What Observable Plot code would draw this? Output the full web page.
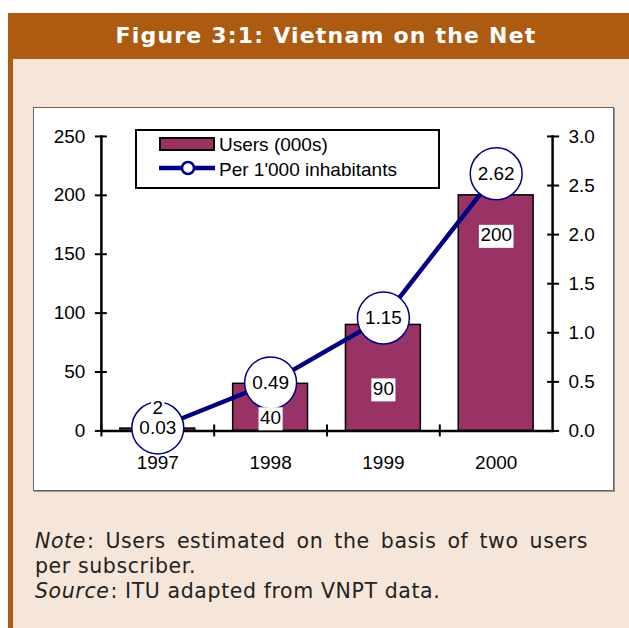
<!DOCTYPE html>
<html>
<head>
<meta charset="utf-8">
<script src="https://cdn.jsdelivr.net/npm/d3@7"></script>
<script src="https://cdn.jsdelivr.net/npm/@observablehq/plot@0.6"></script>
<style>
  html, body { margin: 0; padding: 0; background: white; width: 629px; height: 628px; overflow: hidden; }
  #panel { position: absolute; left: 8px; top: 13px; width: 640px; height: 640px; background: #F5E6D9; }
  #title { position: absolute; left: 0; top: 0; width: 636px; height: 46px; background: #AC5B10; color: white;
           font: bold 22px "DejaVu Sans", sans-serif; letter-spacing: 1.2px; text-align: center; line-height: 46px; }
  #lborder { position: absolute; left: 0; top: 46px; width: 5px; height: 600px; background: #AC5B10; }
  #chart { position: absolute; left: 33px; top: 107px; width: 579px; height: 382px; background: white;
           border: 1px solid #666; box-shadow: 1px 1px 0 #999; }
  #chart svg { position: absolute; left: -1px; top: -1px; }
  #legend { position: absolute; left: 101px; top: 21px; width: 301px; height: 56px; border: 2px solid black; background: white;
            font: 19px "Liberation Sans", Arial, sans-serif; }
  #legend svg { left: 0; top: 0; }
  #note { position: absolute; left: 35px; top: 529px; width: 553px; font: 20.5px "DejaVu Sans", sans-serif; letter-spacing: 0.6px;
          line-height: 25px; text-align: justify; color: #222; }
  #note i { padding-right: 1px; }
</style>
</head>
<body>
<div id="panel"><div id="title">Figure 3:1: Vietnam on the Net</div><div id="lborder"></div></div>
<div id="chart"></div>
<div id="note"><i>Note</i>: Users estimated on the basis of two users per subscriber.<br><i>Source</i>: ITU adapted from VNPT data.</div>
<script>
// ---- data ----
const years = ["1997", "1998", "1999", "2000"];
const users = [2, 40, 90, 200];                 // Users (000s), left axis
const per1000 = [0.03, 0.49, 1.15, 2.62];       // Per 1'000 inhabitants, right axis
const leftTicks = [0, 50, 100, 150, 200, 250];
const rightTicks = [0, 0.5, 1.0, 1.5, 2.0, 2.5, 3.0];
const seriesNames = ["Users (000s)", "Per 1'000 inhabitants"];

// ---- styles ----
const barColor = "#993366";
const lineColor = "#000080";
const barLabelDy = [-21, 34, 64, 40];

const rows = years.map((year, i) => ({year, users: users[i], per: per1000[i]}));
const k = 250 / 3; // right axis (0–3) mapped onto left axis (0–250)
const W = 580, H = 383, mL = 68, mR = 60;
const band = (W - mL - mR) / years.length;

const plot = Plot.plot({
  width: W, height: H,
  marginLeft: mL, marginRight: mR, marginTop: 29, marginBottom: 59,
  style: {fontFamily: "'Liberation Sans', Arial, sans-serif", fontSize: "19px", color: "black", background: "transparent", overflow: "visible"},
  x: {domain: years, padding: 0, axis: null},
  y: {domain: [0, 250], axis: null},
  marks: [
    Plot.barY(rows, {x: "year", y: "users", fill: barColor, stroke: "black", strokeWidth: 1.5, insetLeft: 19, insetRight: 19}),
    Plot.ruleY([0], {stroke: "black", strokeWidth: 2.5}),
    Plot.frame({anchor: "left", stroke: "black", strokeWidth: 2.5}),
    Plot.frame({anchor: "right", stroke: "black", strokeWidth: 2.5}),
    Plot.axisY(leftTicks, {anchor: "left", label: null, tickSize: 12, dx: 6, tickPadding: 10, strokeWidth: 2, fontSize: 19, fill: "black"}),
    Plot.axisY(rightTicks.map(v => v * k), {anchor: "right", label: null, tickSize: 12, dx: -6, tickPadding: 10, strokeWidth: 2,
      fontSize: 19, fill: "black", tickFormat: v => (v / k).toFixed(1)}),
    Plot.axisX(years, {anchor: "bottom", label: null, tickSize: 12, dy: -6, dx: -band / 2, strokeWidth: 2, tickFormat: () => ""}),
    Plot.axisX(years, {anchor: "bottom", label: null, tickSize: 0, tickPadding: 25, fontSize: 19, fill: "black"}),
    Plot.line(rows, {x: "year", y: d => d.per * k, stroke: lineColor, strokeWidth: 4.5}),
    Plot.dot(rows, {x: "year", y: d => d.per * k, r: 26, fill: "white", stroke: lineColor, strokeWidth: 1.5}),
    Plot.text(rows, {x: "year", y: d => d.per * k, text: d => d.per.toFixed(2), fontSize: 19, fill: "black"}),
    ...rows.map((r, i) => Plot.text([r], {x: "year", y: "users", text: d => String(d.users), dy: barLabelDy[i],
      fontSize: 19, fill: "black"}))
  ]
});
const chart = document.getElementById("chart");
chart.appendChild(plot);

// white boxes behind bar value labels
const barLabelTexts = new Set(users.map(String));
plot.querySelectorAll('g[aria-label="text"] text').forEach(t => {
  if (!barLabelTexts.has(t.textContent)) return;
  const bb = t.getBBox();
  const rect = document.createElementNS("http://www.w3.org/2000/svg", "rect");
  rect.setAttribute("x", bb.x - 1.5);
  rect.setAttribute("y", bb.y + 0.5);
  rect.setAttribute("width", bb.width + 3);
  rect.setAttribute("height", bb.height + 2);
  rect.setAttribute("fill", "white");
  rect.setAttribute("stroke", "none");
  if (t.getAttribute("transform")) rect.setAttribute("transform", t.getAttribute("transform"));
  t.parentNode.insertBefore(rect, t);
});

// legend
const legend = document.createElement("div");
legend.id = "legend";
legend.innerHTML = `
<svg width="301" height="56" style="position:absolute;left:0;top:0">
  <rect x="23" y="7" width="54" height="12" fill="${barColor}" stroke="black" stroke-width="2"></rect>
  <line x1="22" x2="78" y1="37" y2="37" stroke="${lineColor}" stroke-width="4.5"></line>
  <circle cx="51" cy="37" r="6" fill="white" stroke="${lineColor}" stroke-width="2.5"></circle>
  <text x="82" y="13" dy="0.35em" font-family="'Liberation Sans', Arial" font-size="19">${seriesNames[0]}</text>
  <text x="82" y="38" dy="0.35em" font-family="'Liberation Sans', Arial" font-size="19">${seriesNames[1]}</text>
</svg>`;
chart.appendChild(legend);
</script>
</body>
</html>
